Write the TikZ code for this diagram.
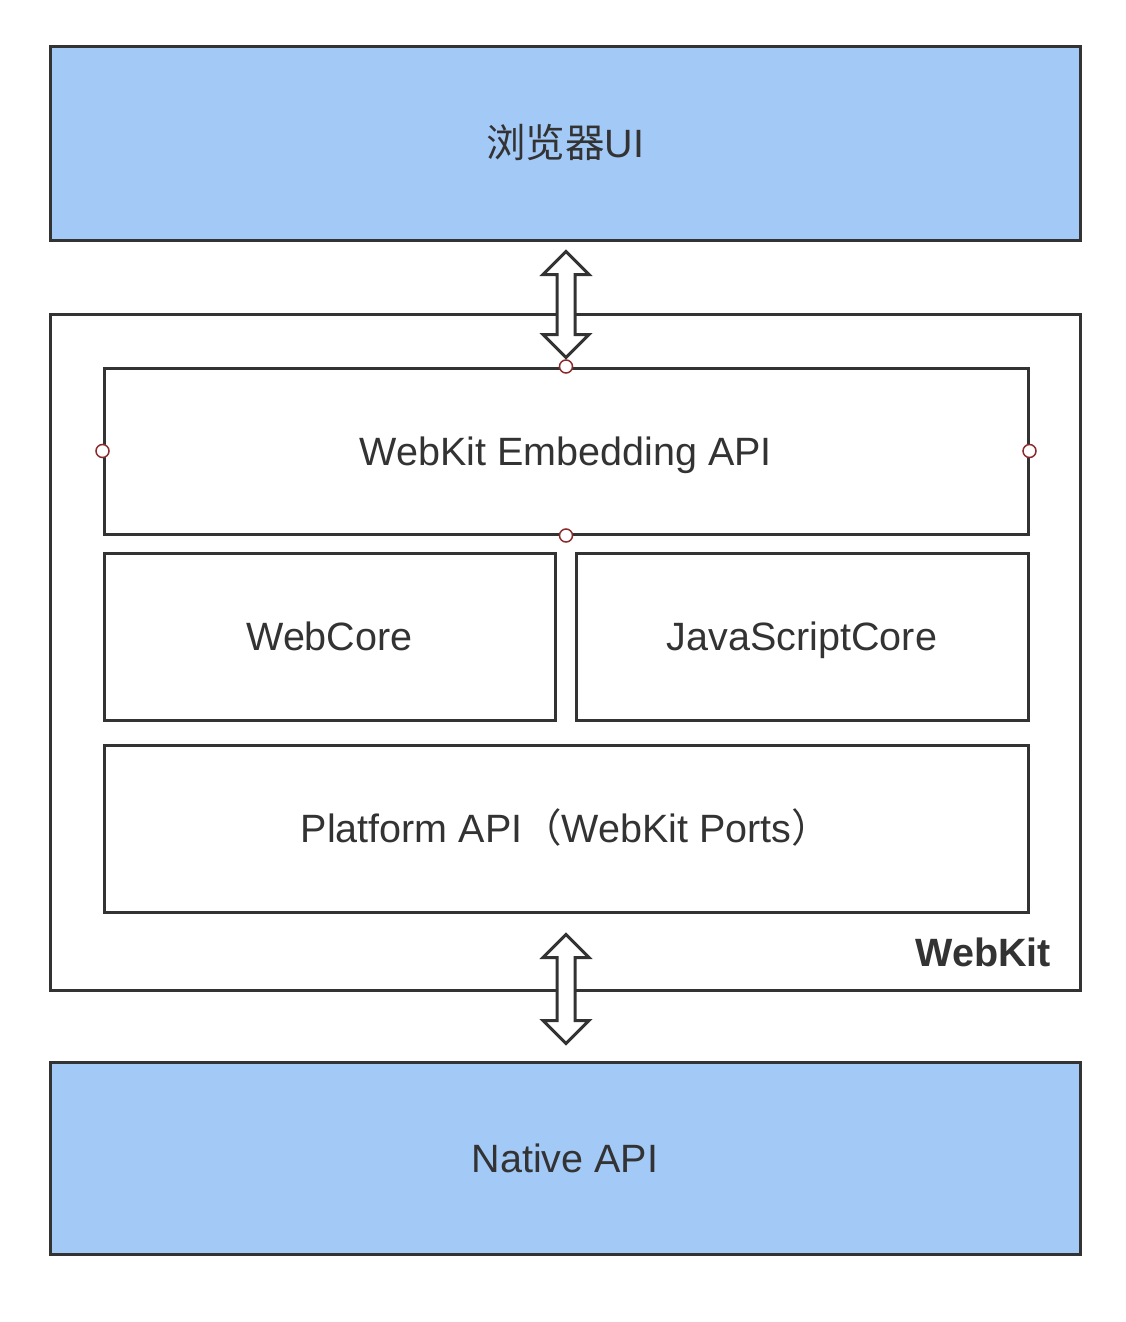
\documentclass[tikz,border=0pt]{standalone}
\usepackage{fontspec}
\setmainfont{Liberation Sans}
\newfontfamily\cjk{Noto Sans CJK SC}
\usetikzlibrary{calc}
\definecolor{edge}{HTML}{333333}
\definecolor{bluefill}{HTML}{A3C9F7}
\definecolor{dotred}{HTML}{8B2A2A}
\begin{document}
\begin{tikzpicture}[x=1pt,y=-1pt,
  box/.style={draw=edge,line width=3pt,fill=white,inner sep=0pt,text=edge,
    font=\fontsize{39.5}{44}\selectfont,text height=28.4pt,text depth=0pt},
  bluebox/.style={box,fill=bluefill},
  port/.style={circle,draw=dotred,fill=white,line width=1.5pt,minimum size=13pt,inner sep=0pt},
  dblarrow/.style={draw=edge,fill=white,line width=3pt,line join=miter}
]
\useasboundingbox (0,0) rectangle (1126,1322);
\fill[white] (0,0) rectangle (1126,1322);

% outer boxes
\node[bluebox,minimum width=1030pt,minimum height=193pt] (ui) at (565,143.5) {{\cjk 浏览器}UI};
\node[box,minimum width=1030pt,minimum height=676pt] (webkit) at (565,652) {};
\node[bluebox,minimum width=1030pt,minimum height=192pt] (native) at (565,1158) {Native API};

% inner boxes
\node[box,minimum width=924pt,minimum height=166pt] (embed) at (566,451) {WebKit Embedding API};
\node[box,minimum width=451pt,minimum height=167pt] (webcore) at (329.5,636.5) {WebCore};
\node[box,minimum width=452pt,minimum height=167pt] (jsc) at (802,636.5) {JavaScriptCore};
\node[box,minimum width=924pt,minimum height=167pt] (platform) at (566,828.5) {Platform API{\cjk （}WebKit Ports{\cjk ）}};

\node[anchor=east,text=edge,font=\fontsize{39.5}{44}\selectfont\bfseries,inner sep=0pt] (wklabel) at (1051,952) {WebKit};

% double arrows
\coordinate (a1t) at ($(ui.south)+(1,10)$);
\coordinate (a1b) at ($(embed.north)+(0,-9)$);
\coordinate (a2t) at ($(platform.south)+(0,21)$);
\coordinate (a2b) at ($(native.north)+(1,-17)$);
\foreach \t/\b in {a1t/a1b,a2t/a2b}{
  \draw[dblarrow] let \p1=(\t), \p2=(\b) in
    (\x1,\y1) -- (\x1+23pt,\y1-23pt) -- (\x1+9pt,\y1-23pt) -- (\x1+9pt,\y2+23pt) -- (\x1+23pt,\y2+23pt)
    -- (\x1,\y2) -- (\x1-23pt,\y2+23pt) -- (\x1-9pt,\y2+23pt) -- (\x1-9pt,\y1-23pt) -- (\x1-23pt,\y1-23pt) -- cycle;
}

% ports
\node[port] (p1) at (embed.north) {};
\node[port] (p2) at (embed.south) {};
\node[port] (p3) at (embed.west) {};
\node[port] (p4) at (embed.east) {};
\end{tikzpicture}
\end{document}
